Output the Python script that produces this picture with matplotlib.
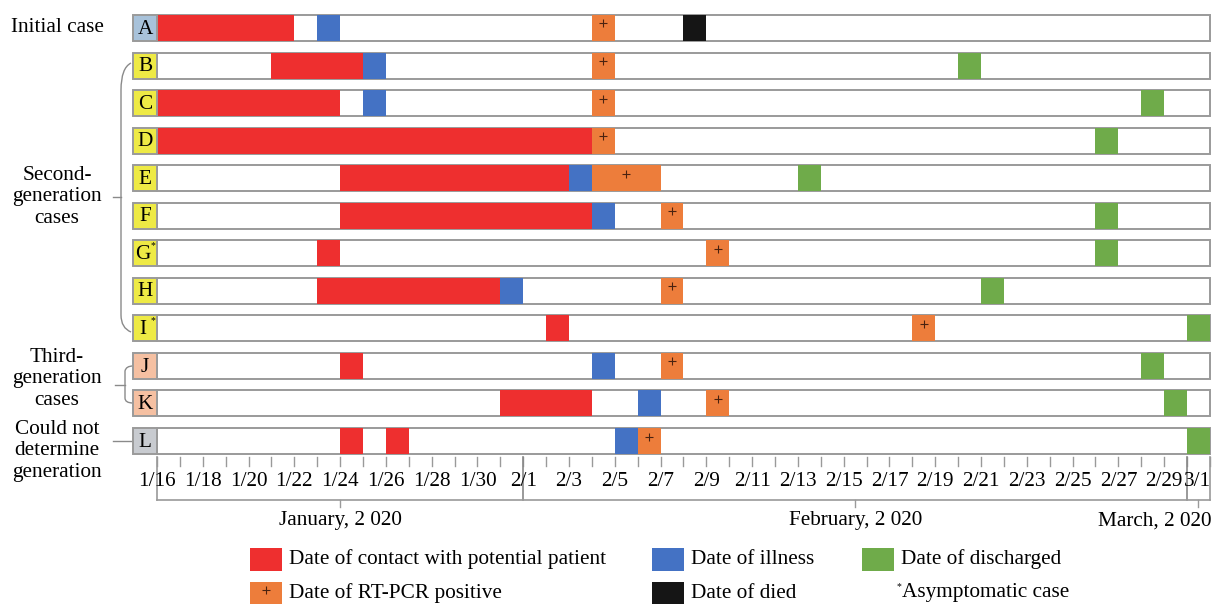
import datetime as dt
import matplotlib.pyplot as plt
from matplotlib.patches import Rectangle, PathPatch
from matplotlib.path import Path

plt.rcParams['font.family'] = ['Liberation Serif', 'DejaVu Serif']

# ---- data ----
cases = ['A', 'B', 'C', 'D', 'E', 'F', 'G', 'H', 'I', 'J', 'K', 'L']
asymptomatic = ['G', 'I']
group = ['init', 'sec', 'sec', 'sec', 'sec', 'sec', 'sec', 'sec', 'sec', 'third', 'third', 'unk']

contact = [[('1/16', '1/21')], [('1/21', '1/24')], [('1/16', '1/23')], [('1/16', '2/3')],
           [('1/24', '2/2')], [('1/24', '2/3')], [('1/23', '1/23')], [('1/23', '1/30')],
           [('2/2', '2/2')], [('1/24', '1/24')], [('1/31', '2/3')],
           [('1/24', '1/24'), ('1/26', '1/26')]]
illness = ['1/23', '1/25', '1/25', None, '2/3', '2/4', None, '1/31', None, '2/4', '2/6', '2/5']
pcr = [('2/4', '2/4'), ('2/4', '2/4'), ('2/4', '2/4'), ('2/4', '2/4'), ('2/4', '2/6'),
       ('2/7', '2/7'), ('2/9', '2/9'), ('2/7', '2/7'), ('2/18', '2/18'), ('2/7', '2/7'),
       ('2/9', '2/9'), ('2/6', '2/6')]
discharged = [None, '2/20', '2/28', '2/26', '2/13', '2/26', '2/26', '2/21', '3/1', '2/28', '2/29', '3/1']
died = ['2/8', None, None, None, None, None, None, None, None, None, None, None]

tick_labels = ['1/16', '1/18', '1/20', '1/22', '1/24', '1/26', '1/28', '1/30', '2/1', '2/3', '2/5',
               '2/7', '2/9', '2/11', '2/13', '2/15', '2/17', '2/19', '2/21', '2/23', '2/25', '2/27',
               '2/29', '3/1']
months = ['January, 2 020', 'February, 2 020', 'March, 2 020']

START = dt.date(2020, 1, 16)


def day(s):
    m, d = s.split('/')
    return (dt.date(2020, int(m), int(d)) - START).days


NDAYS = day('3/1') + 1

# ---- colours ----
RED = '#ee2f2f'
BLUE = '#4472c4'
ORANGE = '#ed7d3b'
GREEN = '#6fab4a'
BLACK = '#151515'
EDGE = '#9a9a9a'
lab_col = {'init': '#a8c2da', 'sec': '#eeea45', 'third': '#f5c0a2', 'unk': '#c8cbd0'}

# ---- layout helpers (pixel -> data) ----
W, H = 1215, 604
X0, DW = 157, 22.89
Y0, RH = 28, 37.55


def px(x):
    return (x - X0) / DW


def py(y):
    return (y - Y0) / RH


fig = plt.figure(figsize=(W / 100, H / 100), dpi=100)
ax = fig.add_axes([0, 0, 1, 1])
ax.set_xlim(px(0), px(W))
ax.set_ylim(py(H), py(0))
ax.axis('off')

BH = 26 / RH
FS = 15.3

for i, c in enumerate(cases):
    ax.add_patch(Rectangle((0, i - BH / 2), NDAYS, BH, facecolor='white', edgecolor=EDGE, lw=1.4, zorder=1))
    ax.add_patch(Rectangle((px(133), i - BH / 2), px(157) - px(133), BH,
                           facecolor=lab_col[group[i]], edgecolor=EDGE, lw=1.4, zorder=3))
    ax.text((px(133) + px(157)) / 2 - (0.1 if c in asymptomatic else 0), i + 0.03, c,
            ha='center', va='center', fontsize=FS, zorder=4)
    if c in asymptomatic:
        ax.text(px(153), i - 0.2, '*', ha='center', va='center', fontsize=7, zorder=4)
    for a, b in contact[i]:
        ax.barh(i, day(b) - day(a) + 1, left=day(a), height=BH, color=RED, zorder=2)
    if illness[i]:
        ax.barh(i, 1, left=day(illness[i]), height=BH, color=BLUE, zorder=2)
    a, b = pcr[i]
    ax.barh(i, day(b) - day(a) + 1, left=day(a), height=BH, color=ORANGE, zorder=2)
    ax.plot((day(a) + day(b) + 1) / 2, i - 0.12, marker='+', color='#4a2210', ms=6, mew=0.8, zorder=3)
    if discharged[i]:
        ax.barh(i, 1, left=day(discharged[i]), height=BH, color=GREEN, zorder=2)
    if died[i]:
        ax.barh(i, 1, left=day(died[i]), height=BH, color=BLACK, zorder=2)

# ---- date axis ----
ytop, ytick, ybot = py(457), py(466), py(500)
for d in range(NDAYS + 1):
    ax.plot([d, d], [ytop, ytick], color=EDGE, lw=1)
for lab in tick_labels:
    xl = day(lab) + (0.45 if lab == '3/1' else 0)
    ax.text(xl, py(482), lab, ha='center', va='center', fontsize=FS)
bounds = [0, day('2/1'), day('3/1'), NDAYS]
for b in bounds:
    ax.plot([b, b], [ytop, ybot], color='#888888' if b in (bounds[1], bounds[2]) else EDGE, lw=1.2)
ax.plot([0, NDAYS], [ybot, ybot], color=EDGE, lw=1.2)
for k, m in enumerate(months):
    mid = (bounds[k] + bounds[k + 1]) / 2
    ax.plot([mid, mid], [ybot, py(507)], color=EDGE, lw=1)
    if k < 2:
        ax.text(mid, py(521), m, ha='center', va='center', fontsize=FS)
    else:
        ax.text(px(1211), py(521), m, ha='right', va='center', fontsize=FS)

# ---- group labels and brackets ----
ax.text(px(57), 0, 'Initial case', ha='center', va='center', fontsize=FS)
ax.text(px(57), py(197), 'Second-\ngeneration\ncases', ha='center', va='center', fontsize=FS, linespacing=1.2)
ax.text(px(57), py(379), 'Third-\ngeneration\ncases', ha='center', va='center', fontsize=FS, linespacing=1.2)
ax.text(px(57), py(451), 'Could not\ndetermine\ngeneration', ha='center', va='center', fontsize=FS, linespacing=1.2)

BR = '#8a8a8a'
verts = [(px(131), py(63)), (px(121), py(68)), (px(121), py(90)),
         (px(121), py(315)),
         (px(121), py(328)), (px(131), py(332))]
codes = [Path.MOVETO, Path.CURVE3, Path.CURVE3, Path.LINETO, Path.CURVE3, Path.CURVE3]
ax.add_patch(PathPatch(Path(verts, codes), fill=False, edgecolor=BR, lw=1))
ax.plot([px(113), px(121)], [py(197), py(197)], color=BR, lw=1)

verts = [(px(133), py(366)), (px(126), py(366)), (px(125), py(371)),
         (px(125), py(398)),
         (px(125), py(403)), (px(133), py(403))]
ax.add_patch(PathPatch(Path(verts, codes), fill=False, edgecolor=BR, lw=1))
ax.plot([px(115), px(125)], [py(385), py(385)], color=BR, lw=1)
ax.plot([px(113), px(133)], [py(441), py(441)], color=BR, lw=1)

# ---- legend ----
leg = [(250, 559, RED, 'Date of contact with potential patient'),
       (652, 559, BLUE, 'Date of illness'),
       (862, 559, GREEN, 'Date of discharged'),
       (250, 593, ORANGE, 'Date of RT-PCR positive'),
       (652, 593, BLACK, 'Date of died')]
for x, y, col, txt in leg:
    ax.add_patch(Rectangle((px(x), py(y + 11.5)), px(x + 32) - px(x), py(y - 11.5) - py(y + 11.5),
                           facecolor=col, edgecolor='none'))
    if col == ORANGE:
        ax.plot(px(x + 16), py(y - 3), marker='+', color='#4a2210', ms=6, mew=0.8)
    ax.text(px(x + 39), py(y), txt, ha='left', va='center', fontsize=FS)
ax.text(px(897), py(587), '*', ha='left', va='center', fontsize=7)
ax.text(px(902), py(593), 'Asymptomatic case', ha='left', va='center', fontsize=FS)

fig.savefig('out.png', dpi=100)
